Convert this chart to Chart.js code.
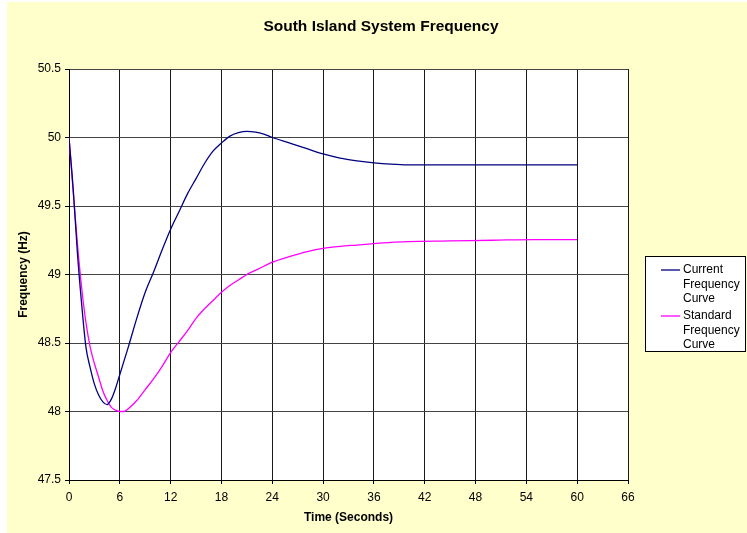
<!DOCTYPE html>
<html>
<head>
<meta charset="utf-8">
<script src="https://cdn.jsdelivr.net/npm/chart.js@4"></script>
<style>
  html, body { margin: 0; padding: 0; background: #fff; }
  #wrap { width: 747px; height: 533px; }
</style>
</head>
<body>
<div id="wrap"><canvas id="freqChart" width="747" height="533"></canvas></div>
<script>
// ======================
// Data
// ======================

const chartTitle = 'South Island System Frequency';
const xTitle = 'Time (Seconds)';
const yTitle = 'Frequency (Hz)';
const seriesNames = [['Current', 'Frequency', 'Curve'], ['Standard', 'Frequency', 'Curve']];

const currentTime = [0, 0.5, 1, 1.5, 2, 2.5, 3, 3.5, 4, 4.5, 5, 5.5, 6, 7, 8, 9, 10, 11, 12, 13, 14, 15, 16, 17, 18, 19, 20, 21, 22, 23, 24, 26, 28, 30, 32, 34, 36, 38, 40, 45, 50, 55, 60];
const currentFreq = [50.0, 49.62, 49.15, 48.78, 48.47, 48.32, 48.2, 48.12, 48.07, 48.05, 48.09, 48.17, 48.27, 48.47, 48.68, 48.87, 49.02, 49.18, 49.33, 49.46, 49.59, 49.70, 49.81, 49.90, 49.96, 50.01, 50.035, 50.045, 50.04, 50.025, 50.0, 49.96, 49.92, 49.88, 49.85, 49.83, 49.815, 49.805, 49.80, 49.80, 49.80, 49.80, 49.80];

const standardTime = [0, 0.5, 1, 1.5, 2, 2.5, 3, 3.5, 4, 4.5, 5, 5.5, 6, 6.5, 7, 8, 9, 10, 11, 12, 13, 14, 15, 16, 17, 18, 19, 20, 21, 22, 23, 24, 26, 28, 30, 32, 34, 36, 38, 40, 45, 50, 55, 60];
const standardFreq = [50.0, 49.6, 49.22, 48.9, 48.65, 48.47, 48.35, 48.25, 48.15, 48.08, 48.03, 48.01, 48.0, 48.0, 48.02, 48.08, 48.16, 48.24, 48.33, 48.43, 48.51, 48.59, 48.68, 48.75, 48.81, 48.87, 48.92, 48.96, 49.0, 49.03, 49.06, 49.09, 49.13, 49.165, 49.19, 49.205, 49.215, 49.225, 49.235, 49.24, 49.245, 49.25, 49.255, 49.255];

const xMin = 0, xMax = 66, xStep = 6;
const yMin = 47.5, yMax = 50.5, yStep = 0.5;

// ======================
// Background, title and legend
// ======================

const excelLook = {
    id: 'excelLook',
    beforeDraw(chart) {
        const ctx = chart.ctx;
        const a = chart.chartArea;
        ctx.save();
        ctx.fillStyle = '#ffffff';
        ctx.fillRect(0, 0, chart.width, chart.height);
        ctx.fillStyle = '#ffffcc';
        ctx.fillRect(7, 2, chart.width - 7, chart.height - 2);
        ctx.fillStyle = '#ffffff';
        ctx.fillRect(a.left, a.top, a.right - a.left, a.bottom - a.top);
        ctx.restore();
    },
    afterDraw(chart) {
        const ctx = chart.ctx;
        ctx.save();
        // title
        ctx.fillStyle = '#000';
        ctx.font = 'bold 15.5px "Liberation Sans", Arial, sans-serif';
        ctx.textAlign = 'center';
        ctx.textBaseline = 'middle';
        ctx.fillText(chartTitle, 381, 27);

        // legend box
        ctx.fillStyle = '#ffffff';
        ctx.fillRect(645.5, 256.5, 100, 95);
        ctx.strokeStyle = '#000';
        ctx.lineWidth = 1;
        ctx.strokeRect(645.5, 256.5, 100, 95);

        ctx.font = '12px "Liberation Sans", Arial, sans-serif';
        ctx.textAlign = 'left';
        chart.data.datasets.forEach((ds, i) => {
            const y0 = 270 + i * 46;
            ctx.strokeStyle = ds.borderColor;
            ctx.lineWidth = 1.3;
            ctx.beginPath();
            ctx.moveTo(661, y0);
            ctx.lineTo(680, y0);
            ctx.stroke();
            ctx.fillStyle = '#000';
            seriesNames[i].forEach((line, j) => {
                ctx.fillText(line, 683, y0 + j * 14.5);
            });
        });
        ctx.restore();
    }
};

function toPoints(xs, ys) {
    return xs.map((x, i) => ({ x: x, y: ys[i] }));
}

// ======================
// Chart
// ======================

document.addEventListener('DOMContentLoaded', function() {
    const ctx = document.getElementById('freqChart');
    const font = { family: '"Liberation Sans", Arial, sans-serif', size: 12 };

    new Chart(ctx.getContext('2d'), {
        type: 'line',
        data: {
            datasets: [{
                label: seriesNames[0].join(' '),
                data: toPoints(currentTime, currentFreq),
                borderColor: '#000080',
                borderWidth: 1.3,
                pointRadius: 0,
                cubicInterpolationMode: 'monotone',
                fill: false
            }, {
                label: seriesNames[1].join(' '),
                data: toPoints(standardTime, standardFreq),
                borderColor: '#ff00ff',
                borderWidth: 1.3,
                pointRadius: 0,
                cubicInterpolationMode: 'monotone',
                fill: false
            }]
        },
        options: {
            responsive: false,
            animation: false,
            devicePixelRatio: 1,
            layout: { padding: { left: 0, top: 69, right: 119, bottom: 0 } },
            plugins: {
                legend: { display: false },
                title: { display: false },
                tooltip: { enabled: false }
            },
            scales: {
                x: {
                    type: 'linear',
                    min: xMin,
                    max: xMax,
                    ticks: { stepSize: xStep, color: '#000', font: font, padding: 6, maxRotation: 0 },
                    grid: { color: '#1a1a1a', lineWidth: 1, tickLength: 4, tickColor: '#000' },
                    border: { color: '#000', width: 1 },
                    title: {
                        display: true,
                        text: xTitle,
                        color: '#000',
                        font: { family: font.family, size: 12, weight: 'bold' },
                        padding: { top: 0, bottom: 8 }
                    },
                    afterFit(scale) { scale.height = 53; }
                },
                y: {
                    min: yMin,
                    max: yMax,
                    ticks: {
                        stepSize: yStep,
                        color: '#000',
                        font: font,
                        padding: 4,
                        callback: v => String(Math.round(v * 10) / 10)
                    },
                    grid: { color: '#444', lineWidth: 1, tickLength: 4, tickColor: '#000' },
                    border: { color: '#000', width: 1 },
                    title: {
                        display: true,
                        text: yTitle,
                        color: '#000',
                        font: { family: font.family, size: 12, weight: 'bold' },
                        padding: { top: 16, bottom: 0 }
                    },
                    afterFit(scale) { scale.width = 69; }
                }
            }
        },
        plugins: [excelLook]
    });
});
</script>
</body>
</html>
